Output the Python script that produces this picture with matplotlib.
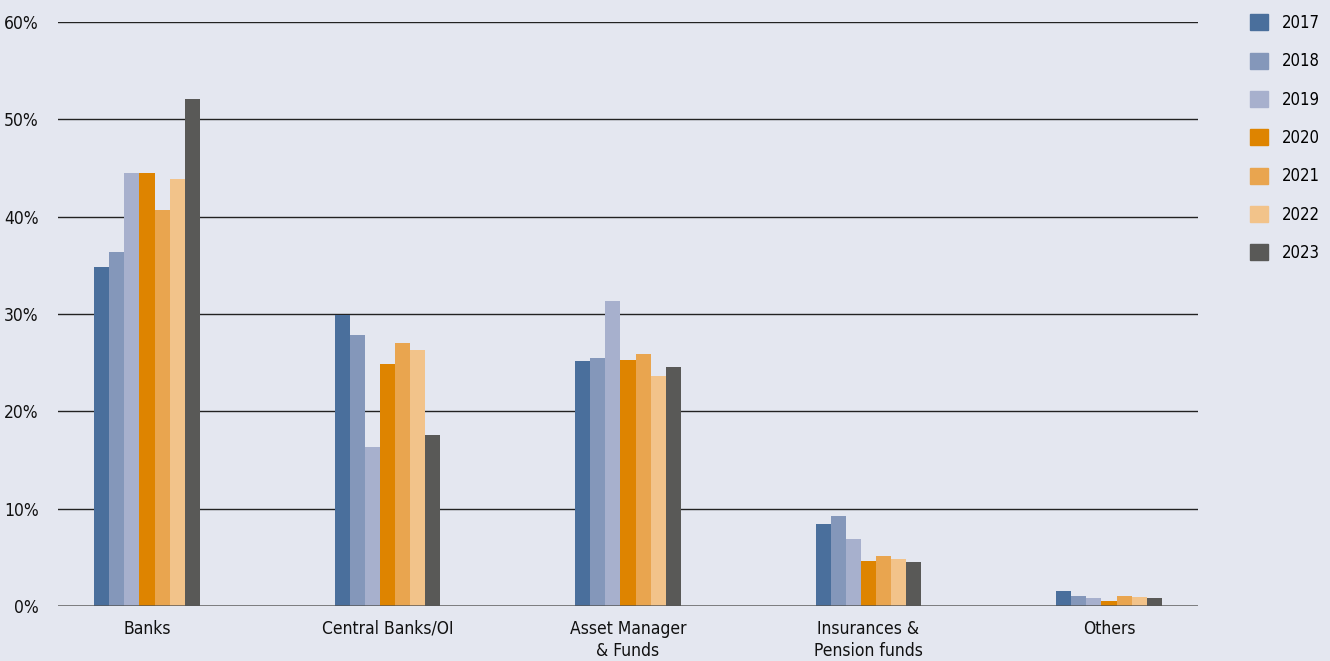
import numpy as np
import matplotlib.pyplot as plt
from matplotlib.patches import Patch
from matplotlib.ticker import FuncFormatter

categories = ['Banks', 'Central Banks/OI', 'Asset Manager\n& Funds',
              'Insurances &\nPension funds', 'Others']
years = ['2017', '2018', '2019', '2020', '2021', '2022', '2023']

# shares in percent, one list per year
v2017 = [34.8, 29.9, 25.2, 8.4, 1.5]
v2018 = [36.4, 27.8, 25.5, 9.2, 1.0]
v2019 = [44.5, 16.3, 31.3, 6.9, 0.8]
v2020 = [44.5, 24.9, 25.3, 4.6, 0.5]
v2021 = [40.7, 27.0, 25.9, 5.1, 1.0]
v2022 = [43.9, 26.3, 23.6, 4.8, 0.9]
v2023 = [52.1, 17.6, 24.6, 4.5, 0.8]
series = [v2017, v2018, v2019, v2020, v2021, v2022, v2023]

colors = ['#4a6f9c', '#8497ba', '#a7b0cd', '#de8400', '#e9a54f', '#f2c38a', '#595957']
bg = '#e4e7f0'

plt.rcParams['font.family'] = ['DejaVu Sans']
plt.rcParams['font.stretch'] = 'condensed'

fig = plt.figure(figsize=(13.3, 6.61), dpi=100, facecolor=bg)
ax = fig.add_axes([58 / 1330, 1 - 606 / 661, 1140 / 1330, 584 / 661])
ax.set_facecolor(bg)

x = np.arange(len(categories))
w = 0.0625
for i, vals in enumerate(series):
    ax.bar(x + (i - 3) * w, np.array(vals) / 100, width=w, color=colors[i],
           label=years[i], zorder=2)

ax.set_xlim(-0.37, len(categories) - 1 + 0.37)
ax.set_ylim(0, 0.6)
ax.set_yticks(np.arange(0, 0.61, 0.1))
ax.yaxis.set_major_formatter(FuncFormatter(lambda v, p: f'{v * 100:.0f}%'))
ax.set_xticks(x)
ax.set_xticklabels(categories, linespacing=1.3)
ax.tick_params(axis='both', length=0, labelsize=12.5, colors='#111111')
ax.tick_params(axis='y', pad=14)
ax.tick_params(axis='x', pad=10)
for s in ax.spines.values():
    s.set_visible(False)
for yv in np.arange(0.1, 0.61, 0.1):
    ax.axhline(yv, color='#222222', lw=1.0, zorder=1)
ax.axhline(0, color='#555555', lw=2, alpha=0.8, zorder=3)

handles = [Patch(color=c) for c in colors]
fig.legend(handles, years, loc='upper left', bbox_to_anchor=(1250 / 1330, 1 - 14 / 661),
           frameon=False, fontsize=12, handlelength=1.1, handleheight=1.1,
           labelspacing=1.22, handletextpad=0.8, borderaxespad=0, borderpad=0)

fig.savefig('out.png', dpi=100, facecolor=bg)
